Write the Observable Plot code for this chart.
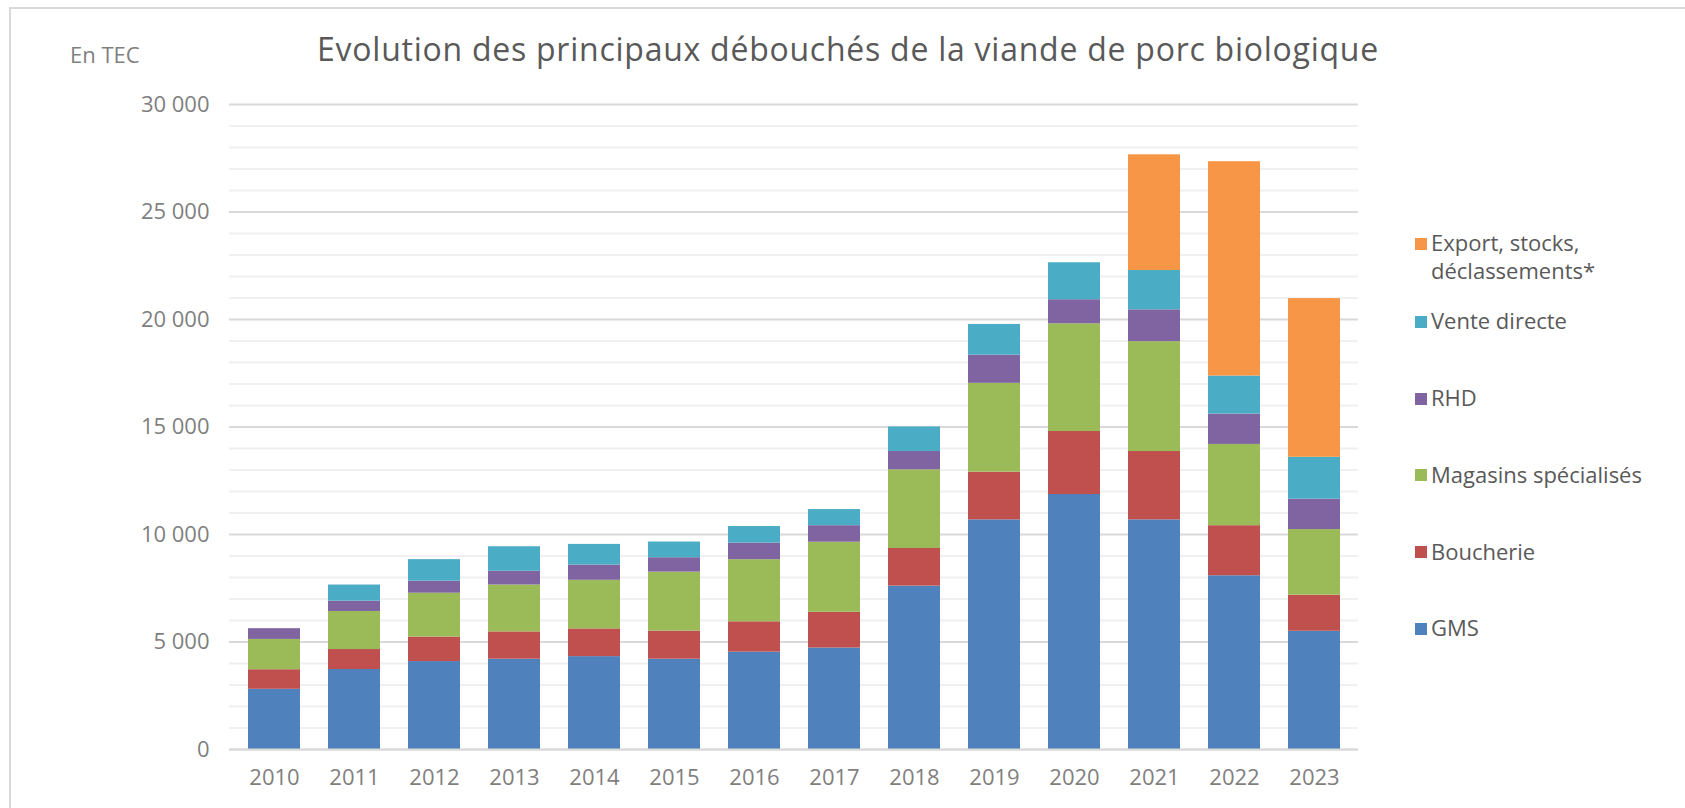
<!DOCTYPE html>
<html>
<head>
<meta charset="utf-8">
<script src="https://cdn.jsdelivr.net/npm/d3@7"></script>
<script src="https://cdn.jsdelivr.net/npm/@observablehq/plot@0.6"></script>
<style>
  html, body { margin: 0; padding: 0; background: #fff; }
  #wrap { position: relative; width: 1685px; height: 808px; overflow: hidden; font-family: "Open Sans", sans-serif; }
  #wrap svg { position: absolute; left: 0; top: 0; }
  .frame { position: absolute; left: 9px; top: 7px; width: 2000px; height: 2000px; border-top: 2px solid #d9d9d9; border-left: 2px solid #d9d9d9; pointer-events: none; }
  .title { position: absolute; top: 33px; left: 848px; transform: translateX(-50%); white-space: nowrap; font-size: 32px; letter-spacing: 0.75px; line-height: 1; color: #595959; }
  .unit { position: absolute; top: 43px; left: 70px; font-size: 22px; line-height: 1; color: #7f7f7f; white-space: nowrap; }
  .lg-sw { position: absolute; width: 12px; height: 12px; }
  .lg-tx { position: absolute; font-size: 22px; line-height: 27.4px; color: #595959; white-space: nowrap; }
  .lg-tx.wrapme { white-space: normal; width: 190px; }
</style>
</head>
<body>
<div id="wrap"></div>
<script>
// ---- Data (tonnes équivalent carcasse) ----
const years = ["2010","2011","2012","2013","2014","2015","2016","2017","2018","2019","2020","2021","2022","2023"];
const seriesNames = ["GMS", "Boucherie", "Magasins spécialisés", "RHD", "Vente directe", "Export, stocks, déclassements*"];
const seriesColors = ["#4f81bd", "#c0504d", "#9bbb59", "#8064a2", "#4bacc6", "#f79646"];

const gms          = [2800, 3720, 4090, 4200, 4320, 4200, 4530, 4720, 7600, 10680, 11860, 10680, 8080, 5500];
const boucherie    = [ 910,  930, 1140, 1270, 1290, 1310, 1410, 1660, 1750,  2220,  2930,  3180, 2330, 1680];
const magasins     = [1410, 1770, 2040, 2180, 2260, 2740, 2890, 3260, 3660,  4130,  5010,  5110, 3780, 3050];
const rhd          = [ 500,  480,  560,  640,  710,  670,  770,  770,  850,  1310,  1120,  1480, 1410, 1410];
const venteDirecte = [   0,  750, 1000, 1140,  960,  730,  770,  750, 1140,  1430,  1720,  1830, 1770, 1950];
const exportStocks = [   0,    0,    0,    0,    0,    0,    0,    0,    0,     0,     0,  5380, 9970, 7380];

const yTicks = [0, 5000, 10000, 15000, 20000, 25000, 30000];
const unitLabel = "En TEC";
const titleText = "Evolution des principaux débouchés de la viande de porc biologique";

// ---- Build long table ----
const seriesValues = [gms, boucherie, magasins, rhd, venteDirecte, exportStocks];
const data = [];
seriesNames.forEach((s, i) => {
  years.forEach((y, j) => data.push({year: y, series: s, value: seriesValues[i][j]}));
});

const fmt = d3.formatLocale({decimal: ",", thousands: "\u00a0", grouping: [3], currency: ["", "€"]}).format(",d");
const minorGrid = d3.range(0, 30001, 1000).filter(v => v % 5000 !== 0);

const chart = Plot.plot({
  width: 1685,
  height: 808,
  marginLeft: 229,
  marginRight: 327,
  marginTop: 104,
  marginBottom: 59,
  style: {fontFamily: "'Open Sans', sans-serif", fontSize: "22px", color: "#7f7f7f", background: "transparent"},
  x: {type: "band", domain: years, paddingInner: 0.35, paddingOuter: 0.175, label: null},
  y: {domain: [0, 30000], label: null},
  color: {domain: seriesNames, range: seriesColors},
  marks: [
    Plot.ruleY(minorGrid, {stroke: "#f0f0f0", strokeWidth: 2}),
    Plot.ruleY(yTicks, {stroke: "#d9d9d9", strokeWidth: 2}),
    Plot.barY(data, {x: "year", y: "value", fill: "series"}),
    Plot.ruleY([0], {stroke: "#d9d9d9", strokeWidth: 2}),
    Plot.axisY({ticks: yTicks, tickFormat: fmt, tickSize: 0, tickPadding: 20, label: null, fill: "#7f7f7f"}),
    Plot.axisX({tickSize: 0, tickPadding: 20, label: null, fill: "#7f7f7f"})
  ]
});

const wrap = document.getElementById("wrap");
wrap.appendChild(chart);

const frame = document.createElement("div");
frame.className = "frame";
wrap.appendChild(frame);

const t = document.createElement("div");
t.className = "title";
t.textContent = titleText;
wrap.appendChild(t);

const u = document.createElement("div");
u.className = "unit";
u.textContent = unitLabel;
wrap.appendChild(u);

// Legend (top to bottom: reverse of stacking order)
const legendOrder = seriesNames.map((s, i) => i).reverse();
const firstBaseline = 251.3, step = 76.8;
legendOrder.forEach((idx, k) => {
  const baseline = firstBaseline + (k === 0 ? 0 : 78 + (k - 1) * step);
  const sw = document.createElement("div");
  sw.className = "lg-sw";
  sw.style.left = "1415px";
  sw.style.top = (baseline - 13.5) + "px";
  sw.style.background = seriesColors[idx];
  wrap.appendChild(sw);
  const tx = document.createElement("div");
  tx.className = "lg-tx" + (k === 0 ? " wrapme" : "");
  tx.style.left = "1431px";
  tx.style.top = (baseline - 22.2) + "px";
  tx.textContent = seriesNames[idx];
  wrap.appendChild(tx);
});
</script>
</body>
</html>
